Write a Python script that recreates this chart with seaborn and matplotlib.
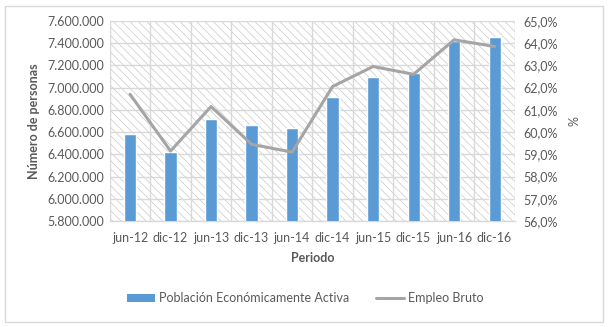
import numpy as np
import pandas as pd
import matplotlib
matplotlib.use("Agg")
import matplotlib.pyplot as plt
import matplotlib.ticker as mticker
from matplotlib.patches import Rectangle, Patch
from matplotlib.lines import Line2D
import seaborn as sns

periods = ["jun-12", "dic-12", "jun-13", "dic-13", "jun-14",
           "dic-14", "jun-15", "dic-15", "jun-16", "dic-16"]
pea = [6583000, 6421000, 6718000, 6664000, 6637000,
       6916000, 7096000, 7132000, 7420000, 7456000]
empleo = [61.7, 59.15, 61.15, 59.45, 59.1, 62.05, 62.95, 62.6, 64.15, 63.85]

sns.set_theme(style="white")
plt.rcParams["font.family"] = ["Lato", "DejaVu Sans"]
plt.rcParams["hatch.linewidth"] = 0.5
plt.rcParams["hatch.color"] = "#c8c8c8"

txt = "#595959"
grid = "#d9d9d9"
fs = 9

fig = plt.figure(figsize=(6.10, 3.27), dpi=100)
ax = fig.add_axes([0.180, 0.324, 0.664, 0.612])

df = pd.DataFrame({"Periodo": periods, "PEA": pea})
sns.barplot(data=df, x="Periodo", y="PEA", color="#5B9BD5", width=0.3,
            saturation=1, ax=ax, zorder=3)

ax.set_ylim(5800000, 7600000)
ax.set_xlim(-0.5, len(periods) - 0.5)
ax.yaxis.set_major_locator(mticker.MultipleLocator(200000))
ax.yaxis.set_major_formatter(mticker.FuncFormatter(lambda v, p: f"{int(round(v)):,}".replace(",", ".")))

# hatched background
ax.add_patch(Rectangle((0, 0), 1, 1, transform=ax.transAxes, facecolor="white",
                       edgecolor="#c8c8c8", hatch="\\\\\\\\", lw=0, zorder=0))
for yv in np.arange(5800000, 7600001, 200000):
    ax.axhline(yv, color=grid, lw=1, zorder=1)
for xv in np.arange(-0.5, len(periods), 1):
    ax.axvline(xv, color=grid, lw=1, zorder=1)

for s in ["top", "right", "left"]:
    ax.spines[s].set_visible(False)
ax.spines["bottom"].set_color(grid)
ax.spines["bottom"].set_linewidth(1)
ax.set_xticks(np.arange(len(periods)))
ax.set_xticklabels(periods)
ax.set_xticks(np.arange(-0.5, len(periods), 1), minor=True)
ax.tick_params(axis="x", which="major", length=0, pad=8, labelsize=fs, labelcolor=txt)
ax.tick_params(axis="x", which="minor", length=4, color=grid, width=1)
ax.tick_params(axis="y", length=0, labelsize=fs, labelcolor=txt, pad=4)
ax.set_xlabel("Periodo", fontsize=fs, fontweight="bold", color=txt, labelpad=6)
ax.set_ylabel("Número de personas", fontsize=fs, fontweight="bold", color=txt, labelpad=5)

ax2 = ax.twinx()
sns.lineplot(x=np.arange(len(periods)), y=empleo, ax=ax2, color="#A5A5A5",
             lw=2.2, zorder=4)
ax2.set_ylim(56, 65)
ax2.yaxis.set_major_locator(mticker.MultipleLocator(1))
ax2.yaxis.set_major_formatter(mticker.FuncFormatter(lambda v, p: f"{v:.1f}%".replace(".", ",")))
for s in ax2.spines.values():
    s.set_visible(False)
ax2.tick_params(axis="y", length=0, labelsize=fs, labelcolor=txt, pad=6)
ax2.set_ylabel("%", fontsize=fs, color=txt, labelpad=8)
ax2.grid(False)
ax.grid(False)

handles = [Patch(facecolor="#5B9BD5", edgecolor="none"),
           Line2D([0], [0], color="#A5A5A5", lw=2.2)]
fig.legend(handles, ["Población Económicamente Activa", "Empleo Bruto"],
           loc="center", bbox_to_anchor=(0.5, 0.088), ncol=2, frameon=False,
           fontsize=fs, labelcolor=txt, columnspacing=2.1, handlelength=2.25,
           handleheight=0.6, handletextpad=0.35)

fig.add_artist(Rectangle((5 / 610, 1 - 322 / 327), 598 / 610, 316 / 327,
                         transform=fig.transFigure, fill=False,
                         edgecolor="#d9d9d9", lw=1))

fig.savefig("out.png", dpi=100, facecolor="white")
